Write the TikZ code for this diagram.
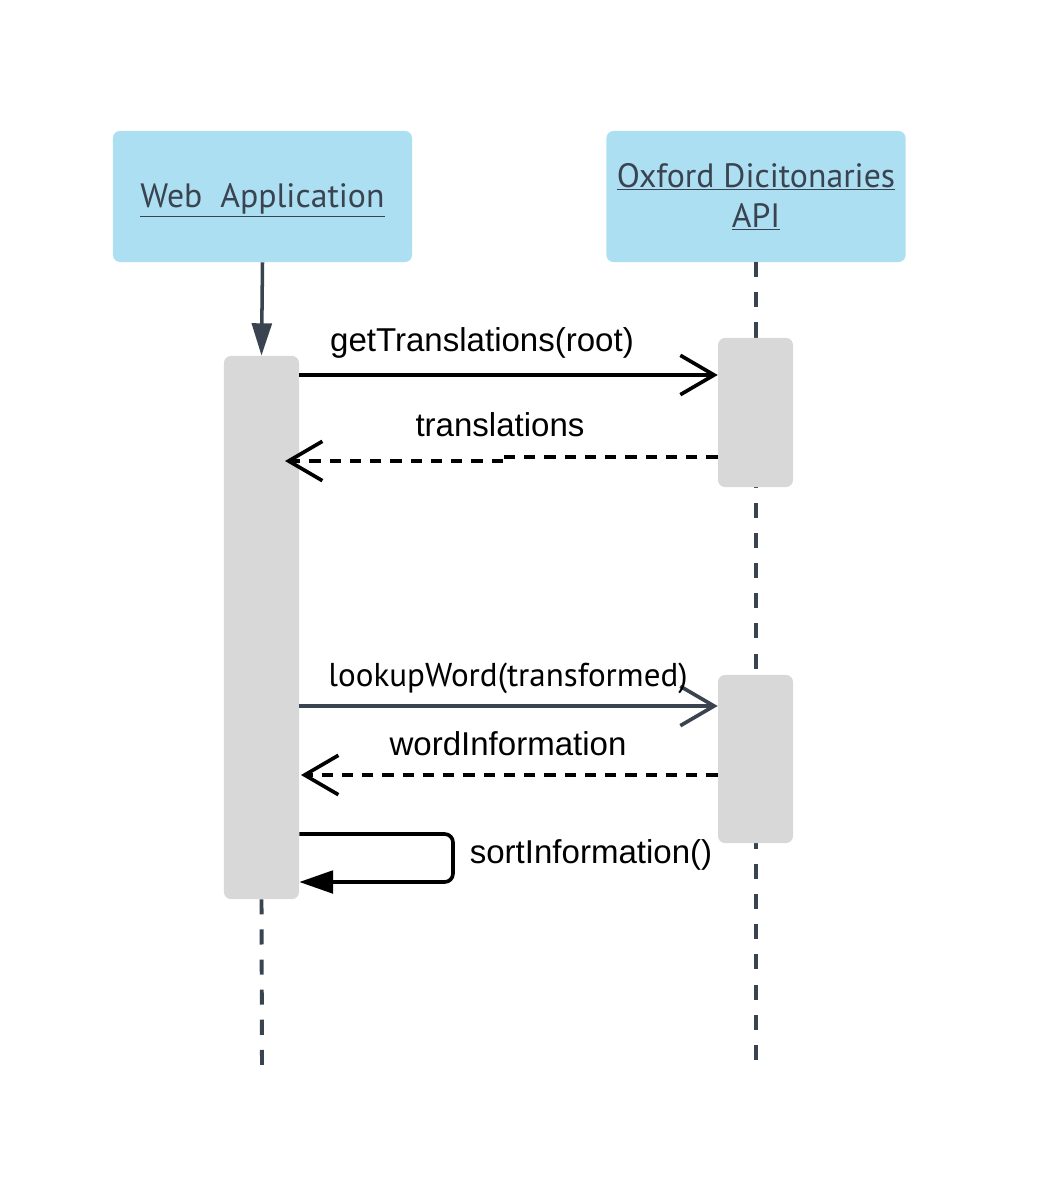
\documentclass[tikz,border=0pt]{standalone}
\usepackage{fontspec}
\setmainfont{Liberation Sans}
\newfontfamily\headfont{PT Sans}
\usetikzlibrary{arrows.meta,positioning}
\definecolor{headblue}{HTML}{ADDFF3}
\definecolor{actgray}{HTML}{D8D8D8}
\definecolor{slate}{HTML}{3A4350}

\begin{document}
\begin{tikzpicture}
  [x=0.025cm,y=-0.025cm,
   head/.style={fill=headblue,rounded corners=5pt,minimum width=7.475cm,minimum height=3.275cm,
     inner sep=0pt,text=slate,align=center,font=\headfont\fontsize{24}{28.5}\selectfont},
   act/.style={fill=actgray,rounded corners=5pt,minimum width=1.875cm,inner sep=0pt},
   life/.style={slate,line width=2.8pt,dash pattern=on 10.7pt off 10.7pt},
   msg/.style={line width=2.6pt,-{Straight Barb[length=24pt,width=28pt]}},
   ret/.style={msg,dash pattern=on 8pt off 6.4pt},
   lbl/.style={font=\fontsize{23.5}{28}\selectfont,inner sep=0pt}]
  \useasboundingbox (0,0) rectangle (1059,1200);
  % lifelines
  \node[head] (web) at (262.5,196.5) {\raisebox{-0.1cm}[\height][\depth]{\underline{Web\ \ Application}}};
  \node[head] (ox) at (756,196.5) {\underline{Oxford Dicitonaries}\\\underline{API}};
  \coordinate (webend) at (262,1068);
  \coordinate (oxend) at (756,1068);
  \draw[life] (ox.south) -- (oxend);
  \node[act,minimum height=13.575cm] (webact) at (261.5,627.5) {};
  \node[act,minimum height=3.725cm] (oxact1) at (755.5,412.5) {};
  \node[act,minimum height=4.2cm] (oxact2) at (755.5,759) {};
  \draw[slate,line width=2.5pt,-{Triangle[length=23pt,width=14pt]}] (web.south) -- (webact.north);
  \draw[life] (webact.south) -- (webend);
  % messages
  \draw[msg] (webact.east |- 0,375) -- (oxact1.west |- 0,375);
  \node[lbl] (getT) at (482,343) {getTranslations(root)};
  \draw[ret] (oxact1.west |- 0,457) -- (500,457) -- (503,461) -- (285,461);
  \node[lbl] (trans) at (500,425) {translations};
  \draw[msg,slate] (webact.east |- 0,706) -- (oxact2.west |- 0,706);
  \node[lbl,font=\headfont\fontsize{23.5}{28}\selectfont] (lookup) at (508,678) {lookupWord(transformed)};
  \draw[ret] (oxact2.west |- 0,775) -- (301,775);
  \node[lbl] (wordinfo) at (508,744) {wordInformation};
  \draw[line width=2.6pt,rounded corners=6pt,-{Triangle[length=24pt,width=16pt]}]
    (webact.east |- 0,834) -- (453,834) -- (453,882) -- (webact.east |- 0,882);
  \node[lbl] (sort) at (591,855) {sortInformation()};
\end{tikzpicture}
\end{document}
